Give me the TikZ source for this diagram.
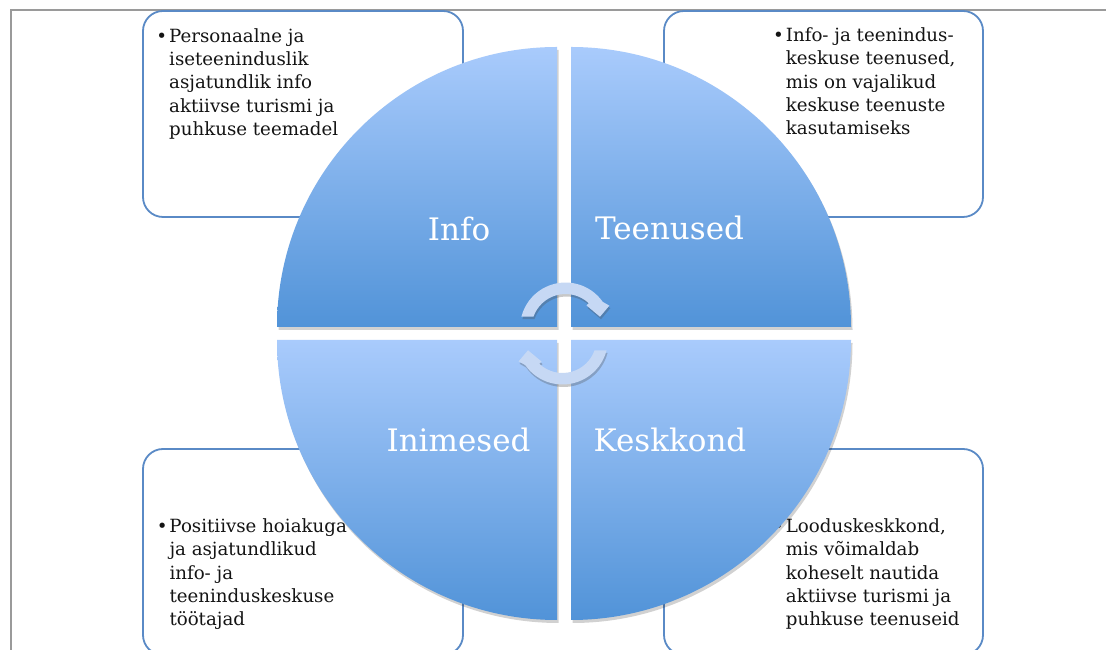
\documentclass[tikz,border=0pt]{standalone}
\usepackage{fontspec}
\setmainfont{DejaVu Serif}
\usetikzlibrary{shadows}
\definecolor{boxline}{HTML}{5A8AC6}
\definecolor{qtop}{HTML}{A9CBFC}
\definecolor{qbot}{HTML}{5193D8}
\definecolor{arrowfill}{HTML}{C6D8F4}
\definecolor{framegray}{HTML}{9A9A9A}
\definecolor{txt}{HTML}{141414}
\tikzset{
  infobox/.style={draw=boxline, line width=1.8pt, fill=white, rounded corners=20pt, inner sep=0pt},
  quadrant/.style={top color=qtop, bottom color=qbot,
    drop shadow={shadow xshift=1.5pt, shadow yshift=-3pt, opacity=0.18, fill=black}},
  qlabel/.style={text=white, font=\fontsize{31}{37}\selectfont, anchor=base, inner sep=0pt},
  bodytext/.style={text=txt, anchor=base west, inner sep=0pt, font=\fontsize{18.2}{23.3}\selectfont},
  cyclearrow/.style={fill=arrowfill,
    drop shadow={shadow xshift=1pt, shadow yshift=-2.5pt, opacity=0.3, fill=black!70}},
  framestyle/.style={draw=framegray, line width=2pt},
  pics/cycarrow/.style={code={
    \path[cyclearrow] ({165.6+#1}:45.5) arc[start angle={165.6+#1}, end angle={35+#1}, radius=45.5]
      -- ({27+#1}:49.2) -- ({18.1+#1}:36.3) -- ({47+#1}:30.8) -- ({47+#1}:34)
      arc[start angle={47+#1}, end angle={160.6+#1}, radius=34] -- cycle;
  }}
}
\begin{document}
\begin{tikzpicture}[x=1pt, y=1pt]
\useasboundingbox (0,0) rectangle (1106,650);
\fill[white] (0,0) rectangle (1106,650);
\clip (0,0) rectangle (1106,650);
% frame
\draw[framestyle] (10.5,-2) -- (10.5,639.8) -- (1108,639.8);
% text boxes
\node[infobox, minimum width=320pt, minimum height=206pt] (boxTL) at (303,536) {};
\node[infobox, minimum width=319pt, minimum height=206pt] (boxTR) at (823.5,536) {};
\node[infobox, minimum width=320pt, minimum height=206pt] (boxBL) at (303,98) {};
\node[infobox, minimum width=319pt, minimum height=206pt] (boxBR) at (823.5,98) {};
% texts
\node[bodytext] (tTL) at (169,607.7) {\parbox[t]{250pt}{\raggedright
  \makebox[0pt][r]{•\hspace{2pt}}Personaalne ja\\ iseteeninduslik\\ asjatundlik info\\ aktiivse turismi ja\\ puhkuse teemadel}};
\node[bodytext] (tTR) at (785.7,608.3) {\parbox[t]{250pt}{\raggedright
  \makebox[0pt][r]{•\hspace{2pt}}Info- ja teenindus-\\ keskuse teenused,\\ mis on vajalikud\\ keskuse teenuste\\ kasutamiseks}};
\node[bodytext] (tBL) at (169.3,117.3) {\parbox[t]{250pt}{\raggedright
  \makebox[0pt][r]{•\hspace{2pt}}Positiivse hoiakuga\\ ja asjatundlikud\\ info- ja\\ teeninduskeskuse\\ töötajad}};
\node[bodytext] (tBR) at (785.7,117.3) {\parbox[t]{250pt}{\raggedright
  \makebox[0pt][r]{•\hspace{2pt}}Looduskeskkond,\\ mis võimaldab\\ koheselt nautida\\ aktiivse turismi ja\\ puhkuse teenuseid}};
% quadrants
\path[quadrant] (557,323) -- (277,323) arc[start angle=180, end angle=90, radius=280] -- cycle;
\path[quadrant] (571,323) -- (571,603) arc[start angle=90, end angle=0, radius=280] -- cycle;
\path[quadrant] (557,310) -- (557,30) arc[start angle=270, end angle=180, radius=280] -- cycle;
\path[quadrant] (571,310) -- (851,310) arc[start angle=0, end angle=-90, radius=280] -- cycle;
% labels
\node[qlabel] (lInfo) at (459,409) {Info};
\node[qlabel] (lTeen) at (669.5,410) {Teenused};
\node[qlabel] (lInim) at (458.5,198) {Inimesed};
\node[qlabel] (lKesk) at (670,198) {Keskkond};
% cycle arrows
\pic (arrTop) at (565.5,322) {cycarrow=0};
\pic (arrBot) at (562.5,311) {cycarrow=180};
\end{tikzpicture}
\end{document}
